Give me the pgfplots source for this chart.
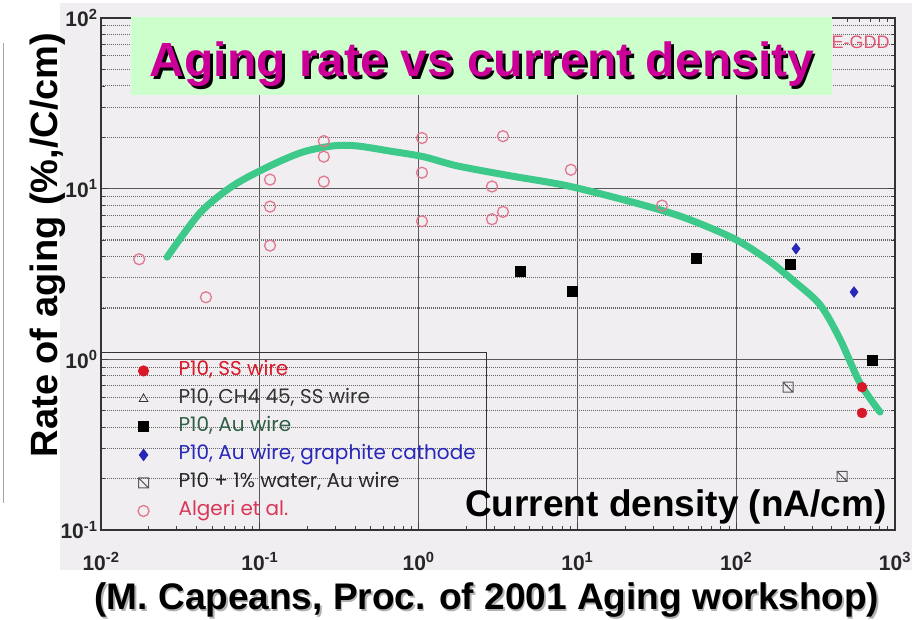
\documentclass[border=0pt]{standalone}
\usepackage{pgfplots}
\pgfplotsset{compat=1.18}
\usepackage{fontspec}
\setmainfont{Liberation Sans}
\newfontfamily\legfont{Poppins}
\definecolor{scanbg}{HTML}{F1EEF1}
\definecolor{titlebg}{HTML}{CCFFCC}
\definecolor{titlefg}{HTML}{CC0099}
\definecolor{curve}{HTML}{3CC98A}
\definecolor{ssred}{HTML}{D81828}
\definecolor{algpink}{HTML}{E07890}
\definecolor{algtext}{HTML}{D83858}
\definecolor{augreen}{HTML}{2F5F45}
\definecolor{gblue}{HTML}{2828B8}
\pgfdeclareplotmark{hsq}{%
  \pgfpathrectangle{\pgfqpoint{-\pgfplotmarksize}{-\pgfplotmarksize}}{\pgfqpoint{2\pgfplotmarksize}{2\pgfplotmarksize}}%
  \pgfpathmoveto{\pgfqpoint{-\pgfplotmarksize}{\pgfplotmarksize}}%
  \pgfpathlineto{\pgfqpoint{\pgfplotmarksize}{-\pgfplotmarksize}}%
  \pgfusepathqstroke}
\pgfplotsset{mylegimg/.style={legend image code/.code={\draw[mark repeat=1,mark phase=1,##1] plot coordinates {(34pt,0pt)}; \path[draw=none,fill=none] (0pt,0pt) (66pt,0pt);}}}
\begin{document}
\begin{tikzpicture}
\useasboundingbox (0pt,0pt) rectangle (922pt,620pt);
\fill[white] (0pt,0pt) rectangle (922pt,620pt);
\fill[scanbg] (60pt,50pt) rectangle (912pt,617pt);
\draw[black!35, line width=0.8pt] (3pt,577pt) -- (3pt,117pt);
\begin{axis}[
  at={(101pt,90pt)}, anchor=south west,
  scale only axis, width=794pt, height=512pt,
  xmode=log, ymode=log,
  xmin=0.01, xmax=1000, ymin=0.1, ymax=100,
  xtick={0.01,0.1,1,10,100,1000},
  xticklabels={10\textsuperscript{-2},10\textsuperscript{-1},10\textsuperscript{0},10\textsuperscript{1},10\textsuperscript{2},10\textsuperscript{3}},
  ytick={0.1,1,10,100},
  yticklabels={10\textsuperscript{-1},10\textsuperscript{0},10\textsuperscript{1},10\textsuperscript{2}},
  minor xtick={0.02,0.03,0.04,0.05,0.06,0.07,0.08,0.09,0.2,0.3,0.4,0.5,0.6,0.7,0.8,0.9,2,3,4,5,6,7,8,9,20,30,40,50,60,70,80,90,200,300,400,500,600,700,800,900},
  minor ytick={0.2,0.3,0.4,0.5,0.6,0.7,0.8,0.9,2,3,4,5,6,7,8,9,20,30,40,50,60,70,80,90},
  xmajorgrids, ymajorgrids, yminorgrids,
  major grid style={black!65, line width=0.8pt},
  minor grid style={black!60, line width=1.1pt, dash pattern=on 1.2pt off 0.8pt},
  axis line style={black!80, line width=1.3pt},
  tick style={black!75, line width=0.8pt},
  major tick length=7pt, minor tick length=4pt,
  tick align=inside,
  ticklabel style={font=\bfseries\fontsize{21}{24}\selectfont, text=black!85},
  xticklabel style={yshift=-19pt},
  mylegimg,
  legend style={at={(0,0)}, anchor=south west, draw=black!80, line width=1.1pt, fill=none,
    inner xsep=8pt, inner ysep=8pt, row sep=7pt,
    font=\legfont\fontsize{20}{22}\selectfont,
    nodes={inner xsep=3pt, inner ysep=2pt, text height=13pt, text depth=4pt}},
  legend cell align=left,
]
\addplot[curve, line width=7pt, smooth, line cap=round, forget plot] coordinates {
(0.0261,3.97)(0.0420,7.21)(0.0678,10.4)(0.116,13.6)(0.187,16.4)(0.289,17.8)(0.409,17.8)(0.661,16.6)(1.07,15.4)(1.75,13.6)(3.77,11.9)(8.61,10.4)(22.4,8.32)(46.2,6.81)(95.5,5.13)(156,3.86)(228,2.90)(337,2.09)(451,1.31)(603,0.724)(805,0.491)};
\addplot[only marks, mark=*, mark size=5pt, color=ssred] coordinates {(620,0.687)(620,0.485)};
\addlegendentry{\textcolor{ssred}{P10, SS wire}}
\addlegendimage{only marks, mark=triangle, mark size=5pt, black!80, line width=0.8pt}
\addlegendentry{\textcolor{black!80}{P10, CH4 45, SS wire}}
\addplot[only marks, mark=square*, mark size=5pt, black] coordinates {(4.35,3.30)(9.25,2.52)(55.8,3.92)(218,3.59)(716,0.99)};
\addlegendentry{\textcolor{augreen}{P10, Au wire}}
\addplot[only marks, mark=diamond*, mark size=5.5pt, gblue] coordinates {(238,4.45)(552,2.48)};
\addlegendentry{\textcolor{gblue}{P10, Au wire, graphite cathode}}
\addplot[only marks, mark=hsq, mark size=5pt, draw=black!65, line width=1pt] coordinates {(212,0.687)(464,0.206)};
\addlegendentry{\textcolor{black!85}{P10 + 1\% water, Au wire}}
\addplot[only marks, mark=o, mark size=5.5pt, algpink, line width=1.3pt] coordinates {
(0.0174,3.86)(0.0458,2.31)(0.116,11.3)(0.116,7.85)(0.116,4.64)(0.253,19.0)(0.253,15.4)(0.253,11.0)(1.05,19.8)(1.05,12.4)(1.05,6.44)(3.40,20.3)(2.90,10.3)(2.90,6.62)(3.40,7.31)(9.1,12.9)(34.1,7.96)};
\addlegendentry{\textcolor{algtext}{Algeri et al.}}
\end{axis}
\node[anchor=west, text=algtext!85, font=\fontsize{18}{20}\selectfont] at (828pt,578pt) {E-GDD};
\fill[titlebg] (131pt,525pt) rectangle (832pt,603pt);
\node[anchor=base, font=\bfseries\fontsize{48}{50}\selectfont, text=black] at (484.5pt,540.5pt) {Aging rate vs current density};
\node[anchor=base, font=\bfseries\fontsize{48}{50}\selectfont, text=titlefg] at (482pt,543pt) {Aging rate vs current density};
\node[rotate=90, anchor=base, font=\bfseries\fontsize{38}{40}\selectfont] at (57pt,375pt) {Rate of aging (\%,/C/cm)};
\node[anchor=base, font=\bfseries\fontsize{37}{40}\selectfont, text=black!30] at (488.5pt,8.5pt) {(M. Capeans, Proc. of 2001 Aging workshop)};
\node[anchor=base, font=\bfseries\fontsize{37}{40}\selectfont] at (487pt,10pt) {(M. Capeans, Proc. of 2001 Aging workshop)};
\node[anchor=base, font=\bfseries\fontsize{37}{40}\selectfont] at (676pt,103pt) {Current density (nA/cm)};
\end{tikzpicture}
\end{document}
